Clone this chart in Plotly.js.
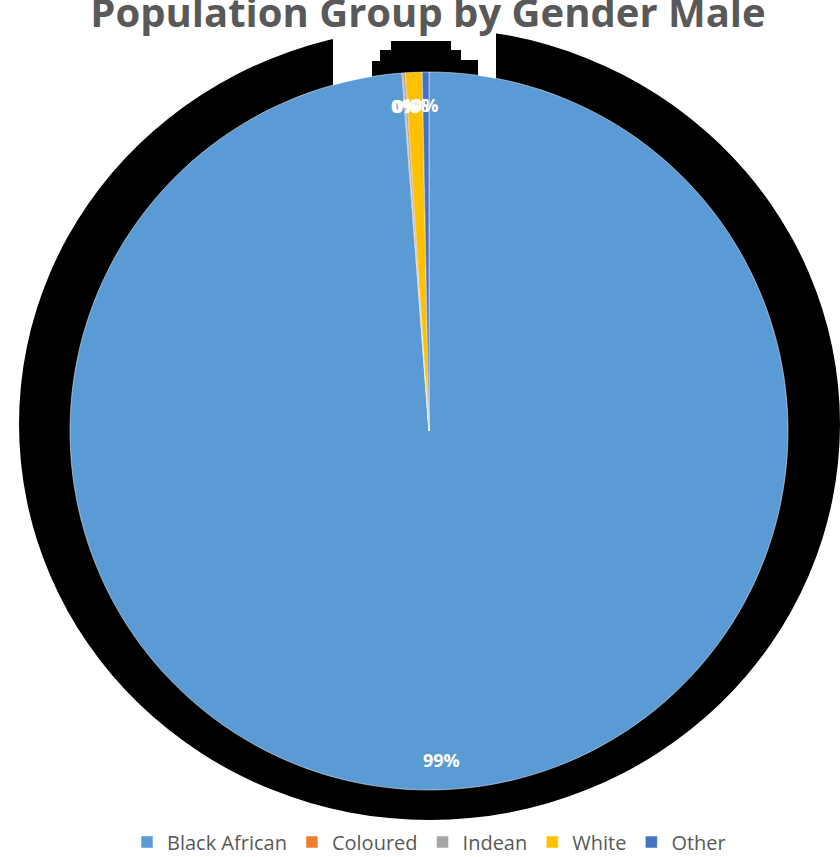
<!DOCTYPE html>
<html>
<head>
<meta charset="utf-8">
<script src="https://cdn.plot.ly/plotly-3.0.1.min.js"></script>
<style>html,body{margin:0;padding:0;background:#fff;}#chart{width:840px;height:857px;}</style>
</head>
<body>
<div id="chart"></div>
<script>
var categories = ["Black African", "Coloured", "Indean", "White", "Other"];
var shares = [98.8, 0.05, 0.1, 0.75, 0.3];
var colors = ["#5B9BD5", "#ED7D31", "#A5A5A5", "#FFC000", "#4472C4"];
var titleText = "Population Group by Gender Male";

var W = 840, H = 857;
function px(x) { return x / W; }
function py(y) { return 1 - y / H; }

var pie = {
  type: "pie",
  labels: categories,
  values: shares,
  sort: false,
  direction: "clockwise",
  rotation: 0,
  marker: { colors: colors, line: { color: "#ffffff", width: 0.5 } },
  textinfo: "none",
  hoverinfo: "label+percent",
  domain: { x: [px(70), px(788)], y: [py(790), py(72)] },
  showlegend: true
};

// percentage labels placed inside each slice near its outer edge
var sliceLabels = [];
var cum = 0;
var total = shares.reduce(function (a, b) { return a + b; }, 0);
var cx = 429, cy = 431;
for (var i = 0; i < shares.length; i++) {
  var mid = (cum + shares[i] / 2) / total * 2 * Math.PI;
  cum += shares[i];
  var rLab = i === 0 ? 329 : 326;
  var lx = cx + rLab * Math.sin(mid);
  var ly = cy - rLab * Math.cos(mid);
  sliceLabels.push({
    xref: "paper", yref: "paper", x: px(lx), y: py(ly),
    xanchor: "center", yanchor: "middle",
    text: "<b>" + Math.round(shares[i] / total * 100) + "%</b>",
    showarrow: false,
    font: { family: "Open Sans, sans-serif", size: 18, color: "#ffffff" }
  });
}

var layout = {
  width: W, height: H,
  margin: { l: 0, r: 0, t: 0, b: 0, autoexpand: false },
  paper_bgcolor: "#ffffff",
  title: {
    text: "<b>" + titleText + "</b>",
    font: { family: "Open Sans, sans-serif", size: 40, color: "#595959" },
    x: px(428), xanchor: "center",
    y: py(27), yanchor: "bottom"
  },
  legend: {
    orientation: "h", x: px(429), xanchor: "center", y: py(842), yanchor: "middle",
    font: { family: "Open Sans, sans-serif", size: 20, color: "#595959" },
    itemwidth: 30, bgcolor: "rgba(0,0,0,0)"
  },
  shapes: [
    { type: "circle", xref: "paper", yref: "paper", layer: "below",
      x0: px(19), x1: px(840), y0: py(820), y1: py(28),
      fillcolor: "#000000", line: { width: 0 } },
    { type: "rect", xref: "paper", yref: "paper", layer: "below",
      x0: px(333), x1: px(496), y0: py(90), y1: py(0),
      fillcolor: "#ffffff", line: { width: 0 } },
    { type: "path", xref: "paper", yref: "paper", layer: "below",
      path: "M" + px(372) + "," + py(90) + " L" + px(372) + "," + py(61) +
            " L" + px(380) + "," + py(61) + " L" + px(380) + "," + py(50) +
            " L" + px(391) + "," + py(50) + " L" + px(391) + "," + py(41) +
            " L" + px(451) + "," + py(41) + " L" + px(451) + "," + py(50) +
            " L" + px(461) + "," + py(50) + " L" + px(461) + "," + py(60) +
            " L" + px(478) + "," + py(60) + " L" + px(478) + "," + py(90) + " Z",
      fillcolor: "#000000", line: { width: 0 } }
  ],
  annotations: sliceLabels
};

Plotly.newPlot("chart", [pie], layout, { displayModeBar: false });
</script>
</body>
</html>
